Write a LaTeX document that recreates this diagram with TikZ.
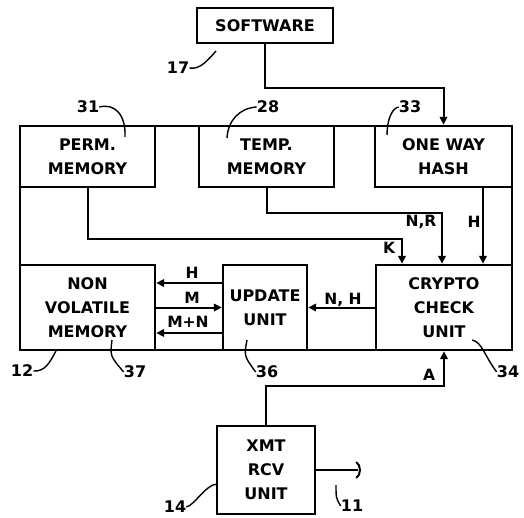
\documentclass[tikz,border=0pt]{standalone}
\usepackage{fontspec}
\newfontfamily\dv{DejaVu Sans}
\newcommand\bxf{\dv\bfseries\fontsize{16}{24}\selectfont}
\newcommand\sgf{\dv\bfseries\fontsize{15.5}{17}\selectfont}
\usetikzlibrary{arrows.meta,calc}
\begin{document}
\begin{tikzpicture}[x=1pt,y=-1pt,
  box/.style={draw, line width=2.4pt, inner sep=0pt, align=center, font=\bxf},
  conn/.style={line width=2pt},
  arr/.style={conn, -{Triangle[length=8pt,width=7.5pt]}},
  lead/.style={line width=1.4pt},
  num/.style={font=\bxf, inner sep=0pt},
  sig/.style={font=\sgf, inner sep=0pt}]
\useasboundingbox (0,0) rectangle (524,518);

% boxes
\node[box, minimum width=492pt, minimum height=224pt] (outer) at (266,238) {};
\node[box, minimum width=136pt, minimum height=35pt] (soft) at (265,25.5) {SOFTWARE};
\node[box, minimum width=135pt, minimum height=61pt] (perm) at (87.5,156.5) {PERM.\\MEMORY};
\node[box, minimum width=135pt, minimum height=61pt] (temp) at (266.5,156.5) {TEMP.\\MEMORY};
\node[box, minimum width=137pt, minimum height=61pt] (hash) at (443.5,156.5) {ONE WAY\\HASH};
\node[box, minimum width=135pt, minimum height=85pt] (nvm) at (87.5,307.5) {NON\\VOLATILE\\MEMORY};
\node[box, minimum width=84pt, minimum height=85pt] (upd) at (265,307.5) {UPDATE\\UNIT};
\node[box, minimum width=136pt, minimum height=85pt] (crypto) at (444,307.5) {CRYPTO\\CHECK\\UNIT};
\node[box, minimum width=98pt, minimum height=88pt] (xmt) at (266,470) {XMT\\RCV\\UNIT};

% connectors
\draw[arr] (soft.south) -- ++(0,44) -| (hash.north);
\draw[arr] (perm.south) -- ++(0,51) -| ($(crypto.north)+(-42,0)$);
\draw[arr] (temp.south) -- ++(0,25) -| ($(crypto.north)+(-2,0)$);
\draw[arr] ($(hash.south)+(39.5,0)$) -- ($(crypto.north)+(39,0)$);
\draw[arr] ($(upd.west)+(0,-24.5)$) -- ($(nvm.east)+(0,-24.5)$);
\draw[arr] (nvm.east) -- (upd.west);
\draw[arr] ($(upd.west)+(0,25.5)$) -- ($(nvm.east)+(0,25.5)$);
\draw[arr] (crypto.west) -- (upd.east);
\draw[arr] (xmt.north) -- ++(0,-39) -| (crypto.south);
\draw[conn] (xmt.east) -- ++(42,0) coordinate (ant);
\draw[conn] ($(ant)+(-2,-8)$) .. controls ($(ant)+(3,-5)$) and ($(ant)+(3,5)$) .. ($(ant)+(-2,8)$);

% signal labels
\node[sig] (sH1) at (192,273) {H};
\node[sig] (sM) at (192,298) {M};
\node[sig] (sMN) at (188,322) {M+N};
\node[sig] (sNH) at (343,300) {N, H};
\node[sig] (sNR) at (421,222) {N,R};
\node[sig] (sH2) at (474,222) {H};
\node[sig] (sK) at (389,248) {K};
\node[sig] (sA) at (429,375) {A};

% reference numerals with leaders
\node[num] (n17) at (178,68) {17};
\draw[lead] (n17.east) .. controls (200,70) and (208,60) .. (216,51);
\node[num] (n31) at (88,107) {31};
\draw[lead] (n31.east) .. controls (115,103) and (126,115) .. (125,137);
\node[num] (n28) at (268,107) {28};
\draw[lead] (n28.west) .. controls (240,108) and (228,120) .. (227,138);
\node[num] (n33) at (410,107) {33};
\draw[lead] (n33.west) .. controls (392,108) and (387,120) .. (387,135);
\node[num] (n12) at (22,371) {12};
\draw[lead] (n12.east) .. controls (45,372) and (50,362) .. (56,351);
\node[num] (n37) at (135,372) {37};
\draw[lead] (112,340) .. controls (110,356) .. (n37.west);
\node[num] (n36) at (267,372) {36};
\draw[lead] (247,340) .. controls (244,356) .. (n36.west);
\node[num] (n34) at (508,372) {34};
\draw[lead] (472,340) .. controls (482,342) and (484,355) .. (n34.west);
\node[num] (n14) at (175,507) {14};
\draw[lead] (n14.east) .. controls (195,505) and (205,485) .. (217,484);
\node[num] (n11) at (352,506) {11};
\draw[lead] (336,485) .. controls (336,498) .. (n11.west);
\end{tikzpicture}
\end{document}
